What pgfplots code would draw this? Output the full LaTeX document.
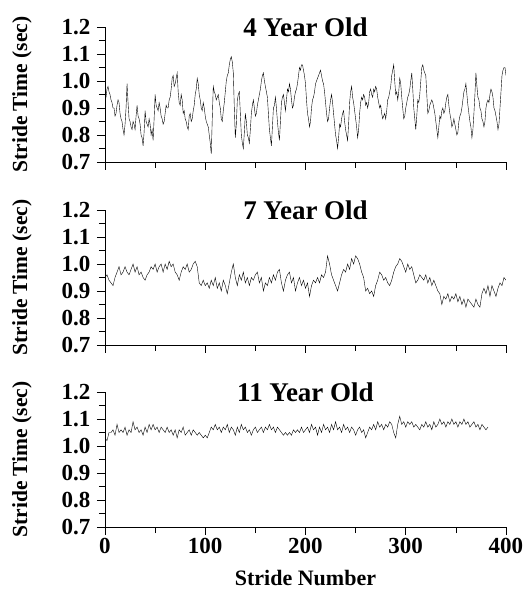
\documentclass[border=0pt]{standalone}
\usepackage{pgfplots}
\pgfplotsset{compat=1.18}
\usepackage{fontspec}
\setmainfont{Liberation Serif}
\pgfplotsset{
  panel/.style={
    scale only axis, width=401pt, height=135pt,
    xmin=0, xmax=400, ymin=0.7, ymax=1.2,
    axis x line*=bottom, axis y line*=left,
    axis line style={-, line width=0.6pt},
    tick align=outside,
    major tick length=8pt, minor tick length=6pt,
    every tick/.style={black, line width=0.6pt},
    xtick={0,100,...,400}, minor xtick={50,150,250,350},
    ytick={0.7,0.8,0.9,1.0,1.1,1.2}, minor ytick={0.75,0.85,0.95,1.05,1.15},
    /pgf/number format/assume math mode=true,
    yticklabel style={xshift=-3pt, /pgf/number format/.cd, fixed, fixed zerofill, precision=1},
    ticklabel style={font=\fontsize{23}{23}\selectfont\bfseries},
    every axis title shift=0pt,
    title style={at={(axis description cs:0.5,1)}, anchor=center, inner sep=0pt, font=\fontsize{27}{27}\selectfont\bfseries},
    ylabel={Stride Time (sec)},
    ylabel style={at={(axis description cs:-0.207,0.5)}, anchor=center, font=\fontsize{21.5}{21.5}\selectfont\bfseries},
    cycle list={{black, line width=0.5pt, mark=none}},
  }
}
\begin{document}
\begin{tikzpicture}
\useasboundingbox (0pt,0pt) rectangle (532pt,595pt);
% ---------------- 4 Year Old ----------------
\begin{axis}[panel, at={(105pt,433pt)}, anchor=south west, title={4 Year Old}, xticklabels={}]
\addplot coordinates {
(0,0.95)(1,0.94)(2,0.97)(3,0.98)(4,0.96)(5,0.95)(6,0.93)(7,0.92)(8,0.90)(9,0.90)
(10,0.87)(11,0.88)(12,0.91)(13,0.93)(14,0.92)(15,0.88)(16,0.86)(17,0.85)(18,0.82)(19,0.80)
(20,0.84)(21,0.90)(22,0.99)(23,0.92)(24,0.86)(25,0.85)(26,0.83)(27,0.82)(28,0.85)(29,0.84)
(30,0.82)(31,0.87)(32,0.91)(33,0.87)(34,0.86)(35,0.84)(36,0.80)(37,0.79)(38,0.76)(39,0.81)
(40,0.89)(41,0.85)(42,0.84)(43,0.83)(44,0.86)(45,0.84)(46,0.80)(47,0.82)(48,0.78)(49,0.86)
(50,0.95)(51,0.91)(52,0.90)(53,0.89)(54,0.92)(55,0.90)(56,0.87)(57,0.86)(58,0.84)(59,0.85)
(60,0.88)(61,0.91)(62,0.90)(63,0.90)(64,0.93)(65,0.94)(66,0.97)(67,1.01)(68,1.02)(69,0.98)
(70,0.99)(71,1.01)(72,1.03)(73,0.96)(74,0.92)(75,0.91)(76,0.95)(77,0.93)(78,0.88)(79,0.89)
(80,0.86)(81,0.85)(82,0.83)(83,0.82)(84,0.87)(85,0.88)(86,0.85)(87,0.86)(88,0.89)(89,0.91)
(90,0.95)(91,0.97)(92,1.01)(93,0.99)(94,0.95)(95,0.93)(96,0.90)(97,0.89)(98,0.92)(99,0.90)
(100,0.87)(101,0.85)(102,0.84)(103,0.83)(104,0.80)(105,0.77)(106,0.73)(107,0.86)(108,0.98)(109,0.96)
(110,0.95)(111,0.93)(112,0.94)(113,0.95)(114,0.92)(115,0.90)(116,0.86)(117,0.85)(118,0.89)(119,0.92)
(120,0.96)(121,1.00)(122,1.02)(123,1.03)(124,1.06)(125,1.08)(126,1.09)(127,1.07)(128,1.03)(129,0.90)
(130,0.79)(131,0.84)(132,0.93)(133,0.95)(134,0.96)(135,0.88)(136,0.80)(137,0.77)(138,0.75)(139,0.81)
(140,0.88)(141,0.85)(142,0.80)(143,0.79)(144,0.77)(145,0.82)(146,0.88)(147,0.91)(148,0.93)(149,0.90)
(150,0.87)(151,0.88)(152,0.91)(153,0.93)(154,0.95)(155,0.97)(156,1.00)(157,1.02)(158,1.03)(159,1.00)
(160,0.98)(161,0.96)(162,0.94)(163,0.88)(164,0.82)(165,0.79)(166,0.76)(167,0.83)(168,0.90)(169,0.91)
(170,0.94)(171,0.90)(172,0.85)(173,0.81)(174,0.78)(175,0.85)(176,0.92)(177,0.94)(178,0.95)(179,0.92)
(180,0.89)(181,0.93)(182,0.97)(183,0.96)(184,0.99)(185,0.97)(186,0.93)(187,0.90)(188,0.91)(189,0.94)
(190,0.96)(191,0.97)(192,0.99)(193,1.02)(194,1.05)(195,1.04)(196,1.06)(197,1.06)(198,1.04)(199,1.02)
(200,0.99)(201,0.93)(202,0.88)(203,0.86)(204,0.83)(205,0.85)(206,0.90)(207,0.93)(208,0.94)(209,0.96)
(210,0.99)(211,1.00)(212,1.01)(213,1.02)(214,1.03)(215,1.04)(216,1.02)(217,1.00)(218,0.99)(219,0.96)
(220,0.92)(221,0.88)(222,0.85)(223,0.86)(224,0.90)(225,0.93)(226,0.95)(227,0.92)(228,0.88)(229,0.84)
(230,0.80)(231,0.78)(232,0.75)(233,0.79)(234,0.84)(235,0.83)(236,0.86)(237,0.88)(238,0.89)(239,0.85)
(240,0.82)(241,0.80)(242,0.78)(243,0.84)(244,0.92)(245,0.96)(246,0.98)(247,0.94)(248,0.92)(249,0.89)
(250,0.86)(251,0.83)(252,0.79)(253,0.82)(254,0.88)(255,0.92)(256,0.94)(257,0.93)(258,0.95)(259,0.94)
(260,0.91)(261,0.92)(262,0.90)(263,0.92)(264,0.96)(265,0.97)(266,0.95)(267,0.94)(268,0.97)(269,0.96)
(270,0.98)(271,0.97)(272,0.94)(273,0.92)(274,0.90)(275,0.91)(276,0.88)(277,0.86)(278,0.87)(279,0.88)
(280,0.86)(281,0.89)(282,0.93)(283,0.94)(284,0.96)(285,0.98)(286,1.02)(287,1.04)(288,1.06)(289,1.00)
(290,0.95)(291,0.96)(292,0.93)(293,0.96)(294,1.01)(295,0.99)(296,0.94)(297,0.90)(298,0.86)(299,0.87)
(300,0.90)(301,0.92)(302,0.94)(303,0.95)(304,0.97)(305,1.00)(306,1.03)(307,0.97)(308,0.90)(309,0.86)
(310,0.82)(311,0.87)(312,0.93)(313,0.92)(314,0.95)(315,1.00)(316,1.05)(317,1.06)(318,1.04)(319,1.03)
(320,1.02)(321,0.95)(322,0.88)(323,0.89)(324,0.91)(325,0.92)(326,0.93)(327,0.92)(328,0.90)(329,0.88)
(330,0.85)(331,0.82)(332,0.79)(333,0.83)(334,0.87)(335,0.86)(336,0.89)(337,0.90)(338,0.88)(339,0.89)
(340,0.92)(341,0.94)(342,0.95)(343,0.91)(344,0.88)(345,0.86)(346,0.83)(347,0.84)(348,0.86)(349,0.84)
(350,0.82)(351,0.80)(352,0.81)(353,0.85)(354,0.87)(355,0.88)(356,0.90)(357,0.93)(358,0.96)(359,0.97)
(360,0.99)(361,0.95)(362,0.91)(363,0.88)(364,0.85)(365,0.83)(366,0.79)(367,0.82)(368,0.88)(369,0.95)
(370,1.03)(371,0.98)(372,0.94)(373,0.93)(374,0.90)(375,0.89)(376,0.86)(377,0.85)(378,0.83)(379,0.85)
(380,0.90)(381,0.92)(382,0.93)(383,0.92)(384,0.95)(385,0.97)(386,0.96)(387,0.94)(388,0.90)(389,0.89)
(390,0.87)(391,0.85)(392,0.82)(393,0.84)(394,0.90)(395,0.96)(396,1.02)(397,1.04)(398,1.05)(399,1.05)
(400,1.02)
};
\end{axis}
% ---------------- 7 Year Old ----------------
\begin{axis}[panel, at={(105pt,250pt)}, anchor=south west, title={7 Year Old}, xticklabels={}]
\addplot coordinates {
(0,0.95)(2,0.96)(4,0.94)(6,0.93)(8,0.92)(10,0.95)(12,0.97)(14,0.99)(16,0.96)(18,0.97)
(20,0.99)(22,0.97)(24,0.96)(26,0.98)(28,1.00)(30,0.97)(32,0.99)(34,0.96)(36,0.97)(38,0.95)
(40,0.94)(42,0.96)(44,0.97)(46,0.99)(48,0.98)(50,1.00)(52,0.97)(54,0.99)(56,1.00)(58,0.97)
(60,1.00)(62,0.98)(64,1.01)(66,0.99)(68,1.00)(70,0.97)(72,0.96)(74,0.94)(76,0.97)(78,0.99)
(80,0.98)(82,1.00)(84,0.97)(86,0.98)(88,1.00)(90,1.01)(92,0.99)(94,0.93)(96,0.92)(98,0.94)
(100,0.92)(102,0.93)(104,0.91)(106,0.94)(108,0.92)(110,0.95)(112,0.91)(114,0.93)(116,0.90)(118,0.94)
(120,0.92)(122,0.89)(124,0.93)(126,0.97)(128,1.00)(130,0.95)(132,0.92)(134,0.96)(136,0.94)(138,0.97)
(140,0.93)(142,0.95)(144,0.92)(146,0.95)(148,0.94)(150,0.96)(152,0.97)(154,0.93)(156,0.95)(158,0.90)
(160,0.93)(162,0.92)(164,0.95)(166,0.93)(168,0.96)(170,0.94)(172,0.97)(174,0.98)(176,0.93)(178,0.90)
(180,0.94)(182,0.96)(184,0.97)(186,0.93)(188,0.95)(190,0.90)(192,0.93)(194,0.95)(196,0.92)(198,0.94)
(200,0.91)(202,0.93)(204,0.88)(206,0.92)(208,0.94)(210,0.93)(212,0.95)(214,0.93)(216,0.96)(218,0.95)
(220,0.97)(222,1.03)(224,1.00)(226,0.96)(228,0.94)(230,0.92)(232,0.90)(234,0.93)(236,0.96)(238,0.98)
(240,0.97)(242,1.00)(244,0.98)(246,1.02)(248,1.00)(250,1.03)(252,1.02)(254,1.00)(256,0.97)(258,0.95)
(260,0.90)(262,0.91)(264,0.89)(266,0.90)(268,0.88)(270,0.92)(272,0.94)(274,0.97)(276,0.96)(278,0.94)
(280,0.95)(282,0.93)(284,0.92)(286,0.94)(288,0.97)(290,0.99)(292,1.00)(294,1.02)(296,1.01)(298,0.99)
(300,0.97)(302,1.00)(304,0.98)(306,0.99)(308,0.96)(310,0.93)(312,0.94)(314,0.96)(316,0.95)(318,0.94)
(320,0.96)(322,0.93)(324,0.95)(326,0.92)(328,0.94)(330,0.92)(332,0.90)(334,0.89)(336,0.85)(338,0.88)
(340,0.87)(342,0.89)(344,0.86)(346,0.88)(348,0.87)(350,0.89)(352,0.86)(354,0.88)(356,0.85)(358,0.87)
(360,0.84)(362,0.87)(364,0.86)(366,0.85)(368,0.84)(370,0.87)(372,0.85)(374,0.84)(376,0.89)(378,0.91)
(380,0.89)(382,0.92)(384,0.88)(386,0.92)(388,0.90)(390,0.88)(392,0.91)(394,0.93)(396,0.92)(398,0.95)
(400,0.94)
};
\end{axis}
% ---------------- 11 Year Old ----------------
\begin{axis}[panel, at={(105pt,68pt)}, anchor=south west, title={11 Year Old},
  xlabel={Stride Number},
  xlabel style={at={(axis description cs:0.5,0)}, anchor=center, yshift=-51pt, font=\fontsize{22}{22}\selectfont\bfseries}]
\addplot coordinates {
(0,1.03)(2,1.02)(4,1.05)(6,1.05)(8,1.06)(10,1.04)(12,1.08)(14,1.05)(16,1.06)(18,1.05)
(20,1.07)(22,1.04)(24,1.06)(26,1.05)(28,1.09)(30,1.06)(32,1.07)(34,1.05)(36,1.06)(38,1.04)
(40,1.07)(42,1.05)(44,1.08)(46,1.06)(48,1.08)(50,1.06)(52,1.07)(54,1.05)(56,1.07)(58,1.06)
(60,1.05)(62,1.07)(64,1.05)(66,1.06)(68,1.04)(70,1.06)(72,1.03)(74,1.06)(76,1.05)(78,1.07)
(80,1.04)(82,1.05)(84,1.06)(86,1.04)(88,1.06)(90,1.05)(92,1.04)(94,1.05)(96,1.04)(98,1.03)
(100,1.04)(102,1.03)(104,1.05)(106,1.07)(108,1.06)(110,1.08)(112,1.06)(114,1.07)(116,1.05)(118,1.07)
(120,1.06)(122,1.08)(124,1.05)(126,1.07)(128,1.06)(130,1.04)(132,1.07)(134,1.05)(136,1.08)(138,1.06)
(140,1.07)(142,1.05)(144,1.06)(146,1.04)(148,1.06)(150,1.07)(152,1.05)(154,1.06)(156,1.07)(158,1.05)
(160,1.07)(162,1.06)(164,1.08)(166,1.06)(168,1.07)(170,1.05)(172,1.07)(174,1.06)(176,1.05)(178,1.04)
(180,1.05)(182,1.04)(184,1.05)(186,1.04)(188,1.06)(190,1.05)(192,1.06)(194,1.05)(196,1.07)(198,1.05)
(200,1.06)(202,1.07)(204,1.05)(206,1.08)(208,1.06)(210,1.07)(212,1.04)(214,1.07)(216,1.05)(218,1.08)
(220,1.06)(222,1.07)(224,1.05)(226,1.08)(228,1.06)(230,1.09)(232,1.06)(234,1.07)(236,1.05)(238,1.08)
(240,1.06)(242,1.07)(244,1.05)(246,1.07)(248,1.06)(250,1.04)(252,1.06)(254,1.07)(256,1.05)(258,1.06)
(260,1.03)(262,1.05)(264,1.07)(266,1.06)(268,1.08)(270,1.06)(272,1.09)(274,1.07)(276,1.08)(278,1.06)
(280,1.08)(282,1.07)(284,1.09)(286,1.08)(288,1.05)(290,1.03)(292,1.08)(294,1.11)(296,1.08)(298,1.09)
(300,1.07)(302,1.09)(304,1.08)(306,1.09)(308,1.07)(310,1.08)(312,1.07)(314,1.06)(316,1.08)(318,1.07)
(320,1.09)(322,1.07)(324,1.08)(326,1.06)(328,1.09)(330,1.07)(332,1.08)(334,1.10)(336,1.08)(338,1.09)
(340,1.07)(342,1.09)(344,1.08)(346,1.10)(348,1.08)(350,1.09)(352,1.07)(354,1.09)(356,1.08)(358,1.10)
(360,1.08)(362,1.09)(364,1.07)(366,1.08)(368,1.09)(370,1.07)(372,1.08)(374,1.06)(376,1.08)(378,1.07)
(380,1.06)(382,1.07)
};
\end{axis}
\end{tikzpicture}
\end{document}
